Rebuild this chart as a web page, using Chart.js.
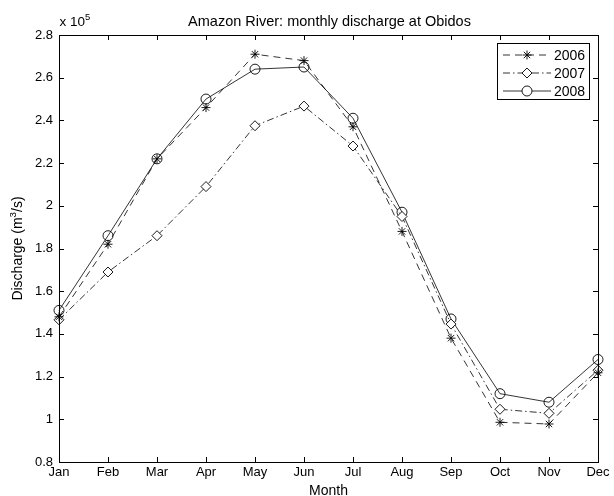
<!DOCTYPE html>
<html>
<head>
<meta charset="utf-8">
<title>Amazon River discharge</title>
<script src="https://cdn.jsdelivr.net/npm/chart.js@4.4.1/dist/chart.umd.min.js"></script>
<style>
  html, body { margin: 0; padding: 0; background: #fff; }
  #wrap { width: 614px; height: 496px; }
</style>
</head>
<body>
<div id="wrap"><canvas id="discharge"></canvas></div>
<script>
// monthly mean discharge at Obidos, m^3/s
const months = ['Jan', 'Feb', 'Mar', 'Apr', 'May', 'Jun', 'Jul', 'Aug', 'Sep', 'Oct', 'Nov', 'Dec'];
const q2006 = [148000, 182000, 222000, 246000, 271000, 268000, 237000, 188000, 138000, 98600, 97800, 121800];
const q2007 = [146600, 169000, 186000, 209000, 237500, 246700, 228000, 195000, 144600, 104700, 102800, 123000];
const q2008 = [151000, 186000, 222000, 250000, 264000, 265000, 241000, 197000, 147000, 112000, 108000, 128000];
const yTicks = [80000, 100000, 120000, 140000, 160000, 180000, 200000, 220000, 240000, 260000, 280000];

const FONT = '"Liberation Sans", Arial, Helvetica, sans-serif';
Chart.defaults.font.family = FONT;
Chart.defaults.font.size = 13;
Chart.defaults.color = '#000';

// text with a raised exponent part, drawn left to right from (x, y)
function supText(ctx, parts, x, y, size) {
  parts.forEach(p => {
    ctx.font = (p.sup ? size * 0.7 : size) + 'px ' + FONT;
    ctx.fillText(p.t, x, p.sup ? y - size * 0.45 : y);
    x += ctx.measureText(p.t).width;
  });
}
function supWidth(ctx, parts, size) {
  let w = 0;
  parts.forEach(p => {
    ctx.font = (p.sup ? size * 0.7 : size) + 'px ' + FONT;
    w += ctx.measureText(p.t).width;
  });
  return w;
}

// box around the axes, inward ticks on all four sides, labels and legend
const matlabAxes = {
  id: 'matlabAxes',
  afterDraw(chart) {
    const ctx = chart.ctx;
    const a = chart.chartArea;
    const xs = chart.scales.x, ys = chart.scales.y;
    const tl = 5;
    ctx.save();
    ctx.strokeStyle = '#000';
    ctx.lineWidth = 1;
    ctx.beginPath();
    months.forEach((m, i) => {
      const x = Math.round(xs.getPixelForValue(i)) + 0.5;
      ctx.moveTo(x, a.bottom); ctx.lineTo(x, a.bottom - tl);
      ctx.moveTo(x, a.top); ctx.lineTo(x, a.top + tl);
    });
    yTicks.forEach(v => {
      const y = Math.round(ys.getPixelForValue(v)) + 0.5;
      ctx.moveTo(a.left, y); ctx.lineTo(a.left + tl, y);
      ctx.moveTo(a.right, y); ctx.lineTo(a.right - tl, y);
    });
    ctx.stroke();
    ctx.strokeRect(Math.round(a.left) + 0.5, Math.round(a.top) + 0.5,
                   Math.round(a.right - a.left), Math.round(a.bottom - a.top));

    ctx.fillStyle = '#000';
    ctx.textBaseline = 'alphabetic';

    // title
    ctx.textAlign = 'center';
    ctx.font = '14.5px ' + FONT;
    ctx.fillText('Amazon River: monthly discharge at Obidos', (a.left + a.right) / 2 + 1, 25.5);

    // x axis label
    ctx.font = '14px ' + FONT;
    ctx.fillText('Month', (a.left + a.right) / 2, 494.5);

    // y axis label, rotated
    ctx.textAlign = 'left';
    const yl = [{ t: 'Discharge (m' }, { t: '3', sup: true }, { t: '/s)' }];
    const ylw = supWidth(ctx, yl, 14);
    ctx.save();
    ctx.translate(22, (a.top + a.bottom) / 2 + ylw / 2);
    ctx.rotate(-Math.PI / 2);
    supText(ctx, yl, 0, 0, 14);
    ctx.restore();

    // multiplier above the y axis
    supText(ctx, [{ t: 'x 10' }, { t: '5', sup: true }], 59.5, 26, 13.5);

    // legend box in the upper right corner
    const bx = a.right - 101, by = a.top + 8, bw = 92, bh = 56;
    ctx.fillStyle = '#fff';
    ctx.fillRect(bx, by, bw, bh);
    ctx.strokeRect(bx + 0.5, by + 0.5, bw, bh);
    chart.data.datasets.forEach((ds, i) => {
      const y = by + 12 + i * 18;
      ctx.save();
      ctx.strokeStyle = '#000';
      ctx.lineWidth = ds.borderWidth;
      ctx.setLineDash(ds.borderDash || []);
      ctx.beginPath();
      ctx.moveTo(bx + 6, y);
      ctx.lineTo(bx + 54, y);
      ctx.stroke();
      ctx.restore();
      ctx.save();
      ctx.fillStyle = '#fff';
      ctx.strokeStyle = '#000';
      ctx.lineWidth = ds.pointBorderWidth;
      Chart.helpers.drawPoint(ctx, {
        pointStyle: ds.pointStyle,
        radius: ds.pointRadius,
        rotation: 0,
        borderWidth: ds.pointBorderWidth
      }, bx + 30, y);
      ctx.restore();
      ctx.fillStyle = '#000';
      ctx.font = '14px ' + FONT;
      ctx.textBaseline = 'middle';
      ctx.fillText(ds.label, bx + 57, y + 1);
    });
    ctx.restore();
  }
};

const baseSet = {
  borderColor: '#000',
  borderWidth: 0.8,
  pointBorderColor: '#000',
  pointBorderWidth: 0.9,
  pointHoverRadius: 5,
  fill: false,
  tension: 0
};

new Chart(document.getElementById('discharge'), {
  type: 'line',
  data: {
    labels: months,
    datasets: [
      Object.assign({}, baseSet, {
        label: '2006', data: q2006,
        borderDash: [7, 5],
        pointStyle: 'star', pointRadius: 4.5,
        pointBackgroundColor: '#000'
      }),
      Object.assign({}, baseSet, {
        label: '2007', data: q2007,
        borderDash: [7, 3, 1.5, 3],
        pointStyle: 'rectRot', pointRadius: 5,
        pointBackgroundColor: '#fff'
      }),
      Object.assign({}, baseSet, {
        label: '2008', data: q2008,
        pointStyle: 'circle', pointRadius: 5,
        pointBackgroundColor: 'rgba(255,255,255,0)'
      })
    ]
  },
  options: {
    responsive: true,
    maintainAspectRatio: false,
    animation: false,
    layout: { padding: { left: 0, right: 16, top: 35, bottom: 0 } },
    plugins: {
      legend: { display: false },
      tooltip: { enabled: false },
      title: { display: false }
    },
    scales: {
      x: {
        type: 'category',
        offset: false,
        grid: { drawOnChartArea: false, drawTicks: false },
        border: { display: true, color: '#000', width: 1 },
        ticks: { padding: 3, maxRotation: 0, autoSkip: false },
        afterFit(scale) { scale.height = 34; }
      },
      y: {
        min: 80000,
        max: 280000,
        grid: { drawOnChartArea: false, drawTicks: false },
        border: { display: true, color: '#000', width: 1 },
        ticks: {
          stepSize: 20000,
          padding: 6,
          callback: v => String(+(v / 1e5).toFixed(1))
        },
        afterFit(scale) { scale.width = 59; }
      }
    }
  },
  plugins: [matlabAxes]
});
</script>
</body>
</html>
